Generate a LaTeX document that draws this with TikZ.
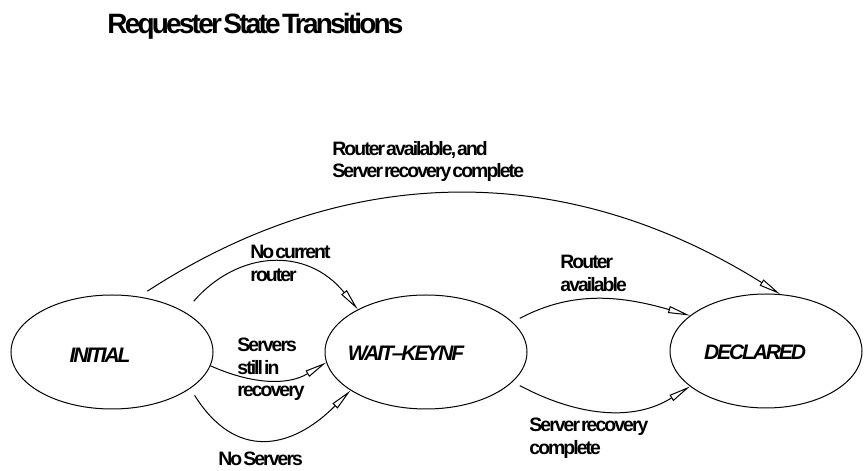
\documentclass[tikz,border=0pt]{standalone}
\usepackage{fontspec}
\setmainfont{Liberation Sans}[LetterSpace=-10,WordSpace=0.3]
\usepackage{tikz}
\usetikzlibrary{arrows.meta}
\usetikzlibrary{shapes.geometric}

\begin{document}
\begin{tikzpicture}[x=0.5pt,y=0.5pt,
    state/.style={draw,ellipse,line width=0.5pt,inner sep=0pt,minimum height=57pt},
    statename/.style={font=\fontsize{10.5}{12}\selectfont\bfseries\itshape},
    trans/.style={line width=0.5pt,-{Triangle[open,length=11pt,width=3.5pt]}},
    cond/.style={anchor=north west,inner sep=0pt,align=left,font=\fontsize{9.7}{11.2}\selectfont\bfseries}]
                \useasboundingbox (0,0) rectangle (864,471);
                % Title
                \node[anchor=north west,inner sep=0pt,font=\fontsize{14}{16}\selectfont\bfseries] (title) at (107,458) {Requester State Transitions};
                % States
                \node[state,minimum width=101pt] (init) at (112,119) {};
                \node[state,minimum width=101pt] (wait) at (426,119) {};
                \node[state,minimum width=96pt] (decl) at (766,120) {};
                \node[statename] (initname) at (100,116) {INITIAL};
                \node[statename] (waitname) at (406,118) {WAIT–KEYNF};
                \node[statename] (declname) at (755,119) {DECLARED};
                % Transitions
                \draw[trans,shorten <=5pt] (init.64) to[out=33,in=148] (decl.76);
                \draw[trans,shorten <=7pt] (init.29) to[out=49,in=129,looseness=1.2] (wait.148);
                \draw[trans] (init.-8) to[out=-24,in=211] (wait.186);
                \draw[trans,shorten <=4pt] (init.-25) to[out=-58,in=225,looseness=1.35] (wait.207);
                \draw[trans,shorten <=4pt] (wait.19) to[out=28,in=164] (decl.155);
                \draw[trans,shorten <=4pt] (wait.-19) to[out=-28,in=212] (decl.205);
                % Conditions
                \node[cond] (bothok) at (332,330) {Router available, and\\Server recovery complete};
                \node[cond] (norouter) at (250,226) {No current\\router};
                \node[cond] (inrecovery) at (237,133) {Servers\\still in\\recovery};
                \node[cond] (noservers) at (218,19) {No Servers};
                \node[cond] (routerok) at (560,216) {Router\\available};
                \node[cond] (recoveryok) at (529,53) {Server recovery\\complete};
            \end{tikzpicture}
\end{document}
